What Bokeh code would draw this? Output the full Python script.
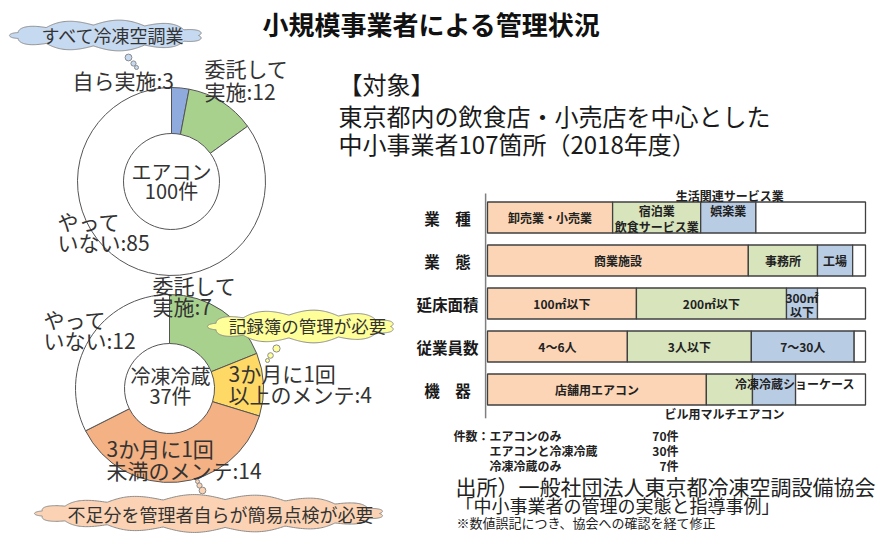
import numpy as np
from bokeh.plotting import figure
from bokeh.models import Range1d
from bokeh.core.properties import value
from bokeh.embed import file_html
from bokeh.resources import INLINE

# ---------------- data ----------------
title = "小規模事業者による管理状況"

ac_labels = [["自ら実施:3"], ["委託して", "実施:12"], ["やって", "いない:85"]]
ac_values = [3, 12, 85]
ac_colors = ["#8FAADC", "#A9D18E", "#FFFFFF"]
ac_name = "エアコン"

fr_labels = [["委託して", "実施:7"], ["3か月に1回", "以上のメンテ:4"],
             ["3か月に1回", "未満のメンテ:14"], ["やって", "いない:12"]]
fr_values = [7, 4, 14, 12]
fr_colors = ["#A9D18E", "#FFD966", "#F4B183", "#FFFFFF"]
fr_name = "冷凍冷蔵"

target_lines = ["【対象】", "東京都内の飲食店・小売店を中心とした", "中小事業者107箇所（2018年度）"]

bar_rows = ["業　種", "業　態", "延床面積", "従業員数", "機　器"]
bar_seg1 = [33.1, 69.0, 39.4, 37.0, 57.9]
bar_seg2 = [23.3, 18.3, 39.7, 32.8, 12.2]
bar_seg3 = [14.6, 9.3, 8.2, 27.2, 11.4]
bar_seg4 = [29.0, 3.4, 12.7, 3.0, 18.5]
seg_colors = ["#FBD5B5", "#D8E4BC", "#B8CCE4", "#FFFFFF"]
seg_labels1 = ["卸売業・小売業", "商業施設", "100㎡以下", "4～6人", "店舗用エアコン"]
seg_labels2 = ["宿泊業\n飲食サービス業", "事務所", "200㎡以下", "3人以下", "ビル用マルチエアコン"]
seg_labels3 = ["娯楽業", "工場", "300㎡\n以下", "7～30人", "冷凍冷蔵ショーケース"]
seg_labels4 = ["生活関連サービス業", "", "", "", ""]

count_labels = ["エアコンのみ", "エアコンと冷凍冷蔵", "冷凍冷蔵のみ"]
count_values = [70, 30, 7]

source_lines = ["出所）一般社団法人東京都冷凍空調設備協会", "「中小事業者の管理の実態と指導事例」",
                "※数値誤記につき、協会への確認を経て修正"]

FONT = value("Noto Sans CJK JP")
TXT = "#333333"

# ---------------- figure ----------------
W, H = 881, 556
p = figure(width=W, height=H, x_range=Range1d(0, W), y_range=Range1d(0, H),
           output_backend="svg", toolbar_location=None, min_border=0)
p.axis.visible = False
p.grid.visible = False
p.outline_line_color = None
p.background_fill_color = "white"


def Y(v):
    return H - np.asarray(v, dtype=float)


def txt(x, y, s, size, bold=False, align="left", color=TXT, **kw):
    p.text(x=[x], y=[Y(y)], text=[s], text_font=FONT, text_font_size=f"{size}px",
           text_font_style="bold" if bold else "normal", text_align=align,
           text_baseline="middle", text_color=color, **kw)


def cloud(cx, cy, w, h, nb, fill, bubbles):
    t = np.linspace(0, 2 * np.pi, 600)
    b = np.abs(np.sin(nb * t / 2))
    xs = cx + (w / 2 - 5 + 5 * b) * np.cos(t)
    ys = cy + (h / 2 - 5 + 5 * b) * np.sin(t)
    p.patch(xs, Y(ys), fill_color=fill, line_color="#8c8c8c", line_width=1)
    for bx, by, br in bubbles:
        p.circle(x=[bx], y=[Y(by)], radius=br, fill_color=fill, line_color="#8c8c8c", line_width=1)


def donut(cx, cy, vals, colors, r_in, r_out):
    tot = float(sum(vals))
    cum = np.cumsum([0] + list(vals))
    start = np.pi / 2 - 2 * np.pi * cum[1:] / tot
    end = np.pi / 2 - 2 * np.pi * cum[:-1] / tot
    p.annular_wedge(x=[cx] * len(vals), y=[Y(cy)] * len(vals), inner_radius=r_in, outer_radius=r_out,
                    inner_radius_units="screen", outer_radius_units="screen",
                    start_angle=start, end_angle=end, fill_color=colors,
                    line_color="#555555", line_width=1)


# title
txt(431, 23, title, 26, bold=True, align="center", color="#111111")

# ---------------- donut 1 (air conditioners) ----------------
donut(171, 181, ac_values, ac_colors, 48, 94)
txt(171, 171, ac_name, 20, align="center")
txt(171, 190, f"{sum(ac_values)}件", 20, align="center")
ac_pos = [(72, [79]), (204, [67, 90]), (57, [220, 241])]
for (lx, ys), lines in zip(ac_pos, ac_labels):
    for yy, s in zip(ys, lines):
        txt(lx, yy, s, 21)

cloud(106, 35, 194, 31, 11, "#C5D9F1", [(136, 67, 2), (133, 63, 2.6), (128, 57, 3.4)])
txt(113, 34, "すべて冷凍空調業", 18, align="center")

# ---------------- donut 2 (refrigeration) ----------------
donut(169, 388, fr_values, fr_colors, 45, 94)
txt(170, 375, fr_name, 20, align="center")
txt(170, 395, f"{sum(fr_values)}件", 20, align="center")
fr_pos = [(152, [284, 305]), (228, [372, 393]), (106, [447, 469]), (43, [318, 339])]
for (lx, ys), lines in zip(fr_pos, fr_labels):
    for yy, s in zip(ys, lines):
        txt(lx, yy, s, 21)

cloud(301, 326, 188, 33, 11, "#FFFF99", [(267, 360, 2), (270, 355, 2.8), (276, 348, 3.6)])
txt(307, 325, "記録簿の管理が必要", 17.5, align="center")

cloud(209, 513, 350, 38, 17, "#FBD3B4", [(197, 481, 2), (199, 485, 2.6), (202, 490, 3.4)])
txt(220, 513, "不足分を管理者自らが簡易点検が必要", 18, align="center")

# ---------------- target text ----------------
for yy, s in zip([83, 115, 143], target_lines):
    txt(338, yy, s, 24, color="#1a1a1a")

# ---------------- stacked bars ----------------
px0, px100 = 487.0, 865.0
k = (px100 - px0) / 100.0
p.extra_x_ranges = {"bx": Range1d(-px0 / k, (W - px0) / k)}
row0, dy = 217.0, 43.0
p.extra_y_ranges = {"by": Range1d((H - row0) / dy, (0 - row0) / dy)}

rows_idx = np.arange(len(bar_rows))
segs = [bar_seg1, bar_seg2, bar_seg3, bar_seg4]
left = np.zeros(len(bar_rows))
mids = []
for seg, col in zip(segs, seg_colors):
    seg = np.array(seg)
    p.hbar(y=rows_idx, left=left, right=left + seg, height=31 / dy, fill_color=col,
           line_color="#404040", line_width=1.3, x_range_name="bx", y_range_name="by")
    mids.append(left + seg / 2)
    left = left + seg

# axis line
p.segment(x0=[-0.5], x1=[-0.5], y0=[-0.56], y1=[4.67], line_color="#7f7f7f", line_width=1.5,
          x_range_name="bx", y_range_name="by")

# row labels
for i, r in enumerate(bar_rows):
    p.text(x=[-10.6], y=[i], text=[r], text_font=FONT, text_font_size="15.5px", text_font_style="bold",
           text_align="center", text_baseline="middle", text_color="#1a1a1a",
           x_range_name="bx", y_range_name="by")

# segment labels (pixel offsets for labels that sit outside their segment centre)
special = {
    (0, 1): [(0, -7, "宿泊業"), (0, 9, "飲食サービス業")],
    (0, 2): [(0, -7, "娯楽業")],
    (0, 3): [(-81, -22, "生活関連サービス業")],
    (2, 2): [(0, -6, "300㎡"), (0, 8, "以下")],
    (4, 1): [(-5, 24, "ビル用マルチエアコン")],
    (4, 2): [(21, -6, "冷凍冷蔵ショーケース")],
}
all_labels = [seg_labels1, seg_labels2, seg_labels3, seg_labels4]
for j, labs in enumerate(all_labels):
    for i, s in enumerate(labs):
        if not s:
            continue
        items = special.get((i, j), [(0, 0, s)])
        for ox, oy, t in items:
            p.text(x=[mids[j][i]], y=[i], text=[t], text_font=FONT, text_font_size="12px",
                   text_font_style="bold", text_align="center", text_baseline="middle",
                   text_color="#222222", x_offset=ox, y_offset=oy,
                   x_range_name="bx", y_range_name="by")

# counts
txt(453, 435, "件数：", 12, bold=True, color="#222222")
for yy, lab, v in zip([435, 450, 465], count_labels, count_values):
    txt(489, yy, lab, 12, bold=True, color="#222222")
    txt(678, yy, f"{v}件", 12, bold=True, align="right", color="#222222")

# source
txt(455, 485, source_lines[0], 21, color="#222222")
txt(455, 504, source_lines[1], 18, color="#222222")
txt(456, 522, source_lines[2], 13, color="#222222")

open("out.html", "w").write(file_html(p, INLINE))
